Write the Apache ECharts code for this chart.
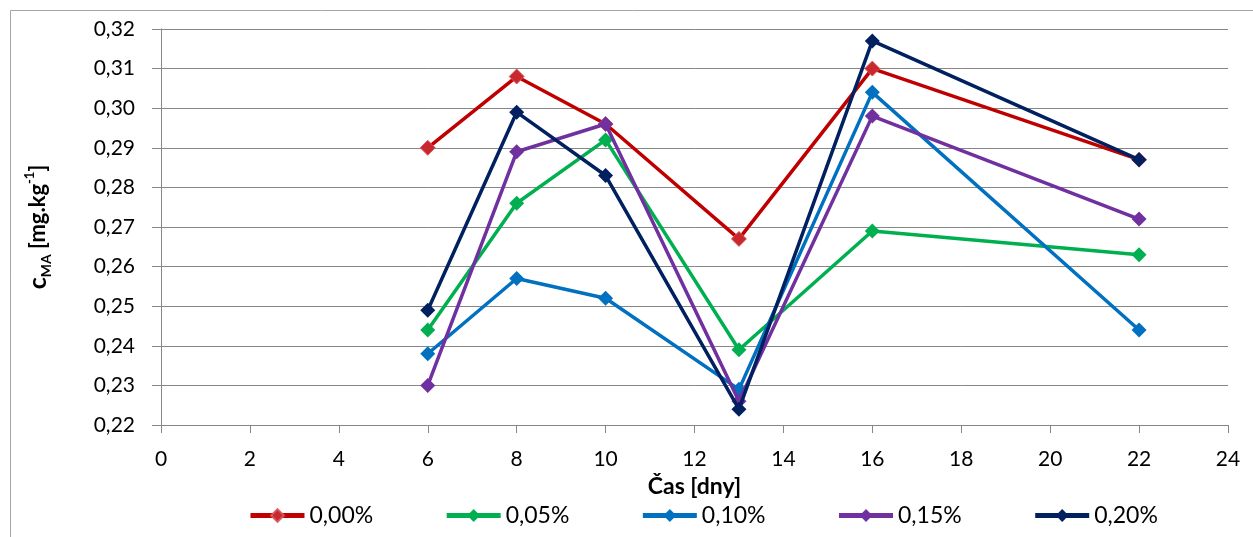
<!DOCTYPE html>
<html>
<head>
<meta charset="utf-8">
<script src="https://cdn.jsdelivr.net/npm/echarts@6/dist/echarts.min.js"></script>
<style>
  html, body { margin: 0; padding: 0; background: #fff; }
  #chart { width: 1253px; height: 537px; }
</style>
</head>
<body>
<div id="chart"></div>
<script>
// Sampling days
var days = [6, 8, 10, 13, 16, 22];

// Concentration c_MA [mg/kg] per additive level
var conc000 = [0.290, 0.308, 0.296, 0.267, 0.310, 0.287];
var conc005 = [0.244, 0.276, 0.292, 0.239, 0.269, 0.263];
var conc010 = [0.238, 0.257, 0.252, 0.229, 0.304, 0.244];
var conc015 = [0.230, 0.289, 0.296, 0.226, 0.298, 0.272];
var conc020 = [0.249, 0.299, 0.283, 0.224, 0.317, 0.287];

var seriesNames = ['0,00%', '0,05%', '0,10%', '0,15%', '0,20%'];
var seriesValues = [conc000, conc005, conc010, conc015, conc020];
var seriesColors = ['#C00000', '#00B050', '#0070C0', '#7030A0', '#002060'];

var FONT = 'Lato, "Open Sans", sans-serif';
var GRID_COLOR = '#878787';

function pairs(vals) {
  return days.map(function (d, i) { return [d, vals[i]]; });
}

var series = seriesNames.map(function (name, i) {
  var isRed = i === 0;
  return {
    name: name,
    type: 'line',
    data: pairs(seriesValues[i]),
    symbol: 'diamond',
    symbolSize: 15,
    showSymbol: true,
    z: 2 + i,
    lineStyle: { color: seriesColors[i], width: 3.5 },
    itemStyle: isRed
      ? { color: '#C8282E', borderColor: 'rgba(214,90,96,0.9)', borderWidth: 1 }
      : { color: seriesColors[i], borderColor: seriesColors[i], borderWidth: 0 },
    emphasis: { disabled: true },
    animation: false
  };
});

var chart = echarts.init(document.getElementById('chart'), null, { renderer: 'canvas' });
chart.setOption({
  backgroundColor: '#ffffff',
  animation: false,
  textStyle: { fontFamily: FONT, color: '#000' },
  graphic: [{
    type: 'rect',
    shape: { x: 10.5, y: 10.5, width: 1300, height: 600 },
    style: { fill: 'none', stroke: '#a6a6a6', lineWidth: 1 },
    silent: true,
    z: -10
  }],
  grid: { left: 161, right: 25, top: 29, bottom: 112, containLabel: false },
  xAxis: {
    type: 'value',
    min: 0, max: 24, interval: 2,
    name: 'Čas [dny]',
    nameLocation: 'middle',
    nameGap: 46,
    nameTextStyle: { fontFamily: FONT, fontWeight: 'bold', fontSize: 23, color: '#000' },
    axisLine: { show: true, onZero: false, lineStyle: { color: GRID_COLOR, width: 1 } },
    axisTick: { show: true, inside: false, length: 8, lineStyle: { color: GRID_COLOR } },
    axisLabel: { fontFamily: FONT, fontSize: 21, color: '#000', margin: 24 },
    splitLine: { show: false }
  },
  yAxis: {
    type: 'value',
    min: 0.22, max: 0.32, interval: 0.01,
    name: '{c|c}{sub|MA}{b| [mg.kg}{sup|-1}{b|]}',
    nameLocation: 'middle',
    nameRotate: 90,
    nameGap: 108,
    nameTextStyle: {
      fontFamily: FONT,
      rich: {
        c: { fontFamily: FONT, fontWeight: 'bold', fontSize: 25, color: '#000', lineHeight: 30, verticalAlign: 'middle' },
        b: { fontFamily: FONT, fontWeight: 'bold', fontSize: 22, color: '#000', lineHeight: 30, verticalAlign: 'middle' },
        sub: { fontFamily: FONT, fontWeight: 'bold', fontSize: 14, color: '#000', lineHeight: 14, verticalAlign: 'bottom' },
        sup: { fontFamily: FONT, fontWeight: 'bold', fontSize: 13, color: '#000', lineHeight: 13, verticalAlign: 'top' }
      }
    },
    axisLine: { show: true, lineStyle: { color: GRID_COLOR, width: 1 } },
    axisTick: { show: true, inside: false, length: 9, lineStyle: { color: GRID_COLOR } },
    axisLabel: {
      fontFamily: FONT, fontSize: 21, color: '#000', margin: 26,
      formatter: function (v) { return v.toFixed(2).replace('.', ','); }
    },
    splitLine: { show: true, lineStyle: { color: GRID_COLOR, width: 1 } }
  },
  legend: {
    data: seriesNames,
    left: 243,
    top: 499,
    itemWidth: 54,
    itemHeight: 16,
    itemGap: 71,
    lineStyle: { width: 5 },
    textStyle: { fontFamily: FONT, fontSize: 23, color: '#000' },
    selectedMode: false
  },
  series: series
});
</script>
</body>
</html>
